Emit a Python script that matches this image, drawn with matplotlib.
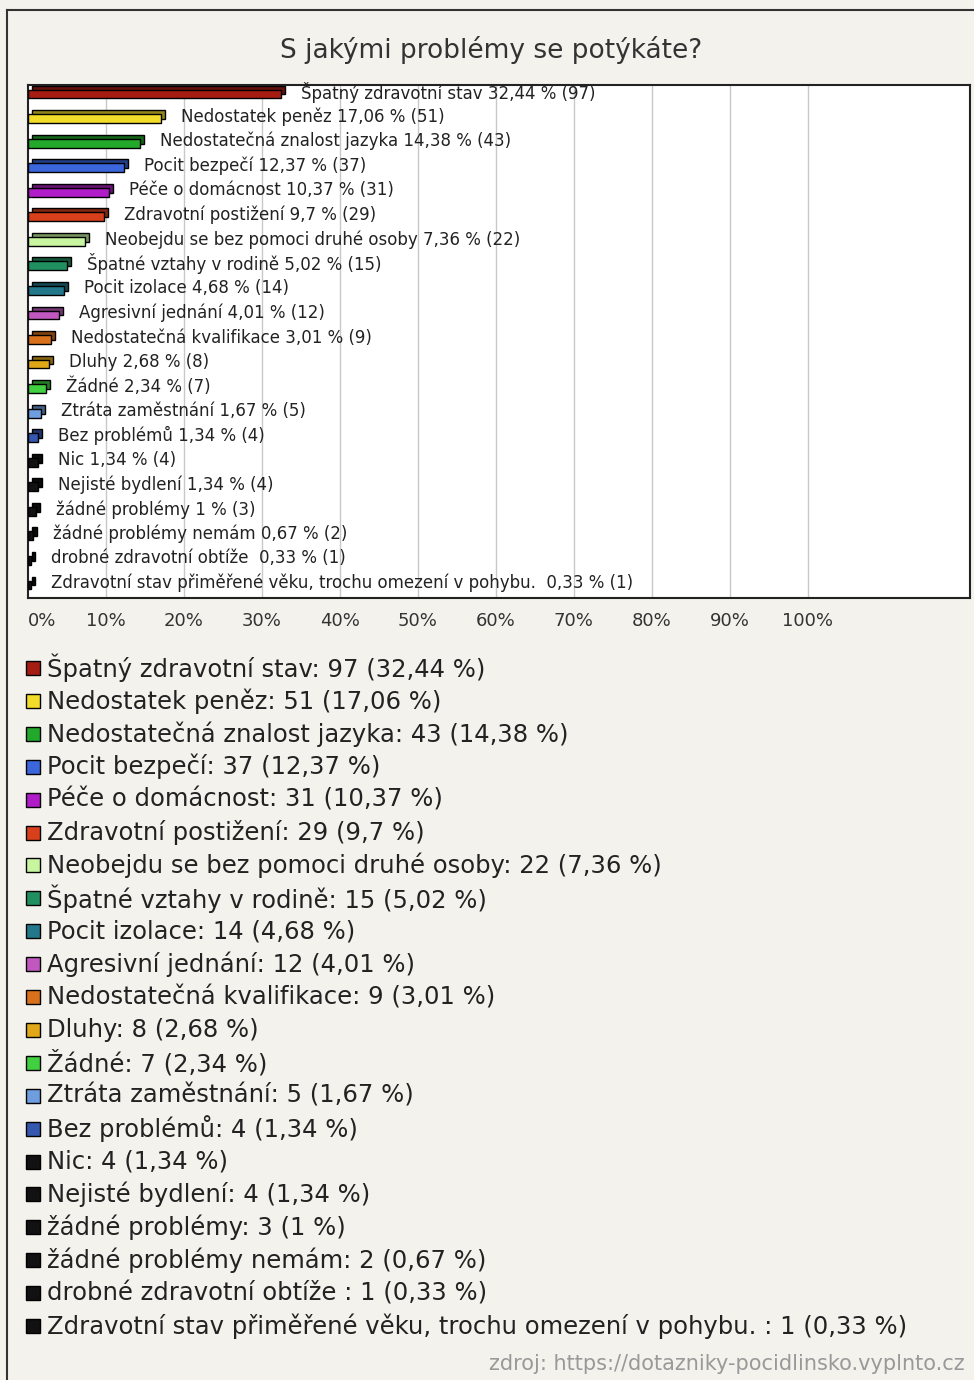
import numpy as np
import matplotlib
matplotlib.use("Agg")
import matplotlib.pyplot as plt
from matplotlib.lines import Line2D
from matplotlib.transforms import ScaledTranslation
import matplotlib.colors as mcolors

TITLE = "S jakými problémy se potýkáte?"
SOURCE = "zdroj: https://dotazniky-pocidlinsko.vyplnto.cz"

names = [
    "Špatný zdravotní stav",
    "Nedostatek peněz",
    "Nedostatečná znalost jazyka",
    "Pocit bezpečí",
    "Péče o domácnost",
    "Zdravotní postižení",
    "Neobejdu se bez pomoci druhé osoby",
    "Špatné vztahy v rodině",
    "Pocit izolace",
    "Agresivní jednání",
    "Nedostatečná kvalifikace",
    "Dluhy",
    "Žádné",
    "Ztráta zaměstnání",
    "Bez problémů",
    "Nic",
    "Nejisté bydlení",
    "žádné problémy",
    "žádné problémy nemám",
    "drobné zdravotní obtíže ",
    "Zdravotní stav přiměřené věku, trochu omezení v pohybu. ",
]
counts = [97, 51, 43, 37, 31, 29, 22, 15, 14, 12, 9, 8, 7, 5, 4, 4, 4, 3, 2, 1, 1]
percents = [32.44, 17.06, 14.38, 12.37, 10.37, 9.7, 7.36, 5.02, 4.68, 4.01,
            3.01, 2.68, 2.34, 1.67, 1.34, 1.34, 1.34, 1, 0.67, 0.33, 0.33]
colors = ["#a61c12", "#f2dc2a", "#22a82a", "#3b66dc", "#b01cc8", "#d8401c",
          "#c8f5a0", "#209060", "#22788a", "#c058c0", "#d8701c", "#e0a818",
          "#40d040", "#6e9ee0", "#3458b0", "#111111", "#111111", "#111111",
          "#111111", "#111111", "#111111"]
xticks = [0, 10, 20, 30, 40, 50, 60, 70, 80, 90, 100]

BG = "#f4f2ec"
W, H = 974, 1380


def fmt(v):
    return "{:g}".format(v).replace(".", ",")


def shade(c, f=0.6):
    r, g, b = mcolors.to_rgb(c)
    return (r * f, g * f, b * f)


def main():
    fig = plt.figure(figsize=(W / 100, H / 100), dpi=100)
    fig.patch.set_facecolor(BG)

    # outer frame (left + top)
    fig.add_artist(Line2D([7 / W, 7 / W], [0, 1 - 10 / H], color="#333333", lw=1.5))
    fig.add_artist(Line2D([7 / W, 1], [1 - 10 / H, 1 - 10 / H], color="#333333", lw=1.5))

    fig.text(491 / W, 1 - 50 / H, TITLE, ha="center", va="center",
             fontsize=19, color="#333333")

    ax = fig.add_axes([28 / W, 1 - 598 / H, 942 / W, 513 / H])
    ax.set_facecolor("white")
    n = len(names)
    y = np.arange(n)

    ax.set_xlim(0, 120.8)
    ax.set_ylim(n - 1 + 0.53, -0.37)
    for t in xticks[1:]:
        ax.axvline(t, color="#c8c8c8", lw=1, zorder=0)

    # 3D look: back face shifted up-right, then front face
    off = ax.transData + ScaledTranslation(4 / 100, 4 / 100, fig.dpi_scale_trans)
    ax.barh(y, percents, height=0.36, color=[shade(c) for c in colors],
            edgecolor="black", lw=1, transform=off, zorder=2)
    ax.barh(y, percents, height=0.36, color=colors, edgecolor="black", lw=1, zorder=3)

    for i in range(n):
        label = "{} {} % ({})".format(names[i], fmt(percents[i]), counts[i])
        ax.annotate(label, xy=(percents[i], y[i]), xytext=(20, 2),
                    textcoords="offset pixels", va="center", ha="left",
                    fontsize=12, color="#222222", zorder=4)

    ax.set_yticks([])
    ax.set_xticks(xticks)
    ax.set_xticklabels(["{}%".format(t) for t in xticks], fontsize=13, color="#333333")
    ax.tick_params(axis="x", length=0, pad=10)
    ax.get_xticklabels()[0].set_ha("left")
    for s in ax.spines.values():
        s.set_color("#222222")
        s.set_linewidth(1.5)

    # legend
    for i in range(n):
        yy = 1 - (668 + i * 32.9) / H
        fig.add_artist(Line2D([33 / W], [yy], marker="s", markersize=9.5,
                              markerfacecolor=colors[i], markeredgecolor="black",
                              markeredgewidth=1, linestyle="none"))
        fig.text(47 / W, yy, "{}: {} ({} %)".format(names[i], counts[i], fmt(percents[i])),
                 ha="left", va="center", fontsize=17.5, color="#222222")

    fig.text(965 / W, 1 - 1364 / H, SOURCE, ha="right", va="center",
             fontsize=15, color="#999999")

    fig.savefig("out.png", dpi=100, facecolor=BG)


if __name__ == "__main__":
    main()
